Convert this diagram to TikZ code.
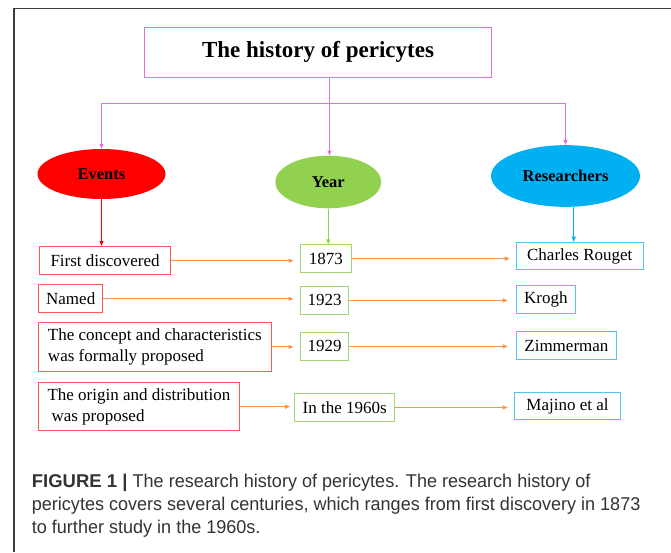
\documentclass[tikz,border=0pt]{standalone}
\usepackage{fontspec}
\setmainfont{Liberation Serif}
\newfontfamily\capfont{Liberation Sans}
\usetikzlibrary{arrows.meta,shapes.geometric}
\definecolor{pinkline}{HTML}{DE74DB}
\definecolor{pinktip}{HTML}{CC3FCC}
\definecolor{evred}{HTML}{FF0000}
\definecolor{boxred}{HTML}{FF5757}
\definecolor{yrgreen}{HTML}{92D050}
\definecolor{boxgreen}{HTML}{9FD873}
\definecolor{rsblue}{HTML}{00B0F0}
\definecolor{boxblue}{HTML}{52C4F2}
\definecolor{arrorange}{HTML}{F7964A}
\definecolor{framegray}{HTML}{3C3C3C}
\definecolor{captxt}{HTML}{333333}
\tikzset{
  tip/.style={-{Triangle[length=5pt,width=4pt]}},
  titlebox/.style={draw=pinkline, line width=1pt, anchor=north west, inner sep=0pt,
    font=\fontsize{23}{27}\selectfont\bfseries},
  head/.style={ellipse, inner sep=0pt, font=\fontsize{16.5}{20}\selectfont\bfseries},
  ebox/.style={draw=boxred, line width=1.1pt, anchor=north west, inner sep=0pt,
    font=\fontsize{17}{20.6}\selectfont},
  ybox/.style={ebox, draw=boxgreen},
  rbox/.style={ebox, draw=boxblue},
  mline/.style={ebox, inner xsep=6.5pt, align=left},
  oarr/.style={tip, draw=arrorange, fill=arrorange, line width=0.9pt},
  caption/.style={anchor=base west, inner sep=0pt, text=captxt, font=\capfont\fontsize{18.5}{22}\selectfont}
}
\begin{document}
\begin{tikzpicture}[x=1pt,y=-1pt]
\useasboundingbox (0,0) rectangle (671,552);
% frame
\draw[framegray, line width=1.3pt] (671,8.7) -- (14,8.7) -- (14,552);
% title
\node[titlebox, minimum width=347pt, minimum height=50.3pt] (title) at (144,26.7) {The history of pericytes};
% headers
\node[head, fill=evred, minimum width=128pt, minimum height=50pt] (ev) at (101.5,174) {Events};
\node[head, fill=yrgreen, minimum width=106pt, minimum height=52.6pt] (yr) at (328.3,182) {Year};
\node[head, fill=rsblue, minimum width=149pt, minimum height=61.7pt] (rs) at (565.5,176) {Researchers};
% pink connectors
\coordinate (hj) at (329.5,103.3);
\coordinate (tx) at (329.5,0);
\draw[pinkline, line width=1pt] (title.south -| tx) -- (hj);
\draw[pinkline, line width=1pt] (ev.north |- hj) -- (rs.north |- hj);
\draw[pinkline, line width=1pt, tip, fill=pinktip] (ev.north |- hj) -- (ev.north);
\draw[pinkline, line width=1pt, tip, fill=pinktip] (hj) -- (yr.north -| tx);
\draw[pinkline, line width=1pt, tip, fill=pinktip] (rs.north |- hj) -- (rs.north);
% event boxes
\node[ebox, minimum width=130.4pt, minimum height=28.3pt] (e1) at (39.3,246) {First discovered};
\node[ebox, minimum width=64.3pt, minimum height=28pt] (e2) at (38,284.3) {Named};
\node[mline, minimum width=232.7pt, minimum height=48.7pt] (e3) at (38,322) {The concept and characteristics\\was formally proposed};
\node[mline, minimum width=200.7pt, minimum height=47.7pt] (e4) at (38,382.3) {The origin and distribution\\\hspace{4pt}was proposed};
% year boxes
\node[ybox, minimum width=50.5pt, minimum height=27.7pt] (y1) at (300,244.3) {1873};
\node[ybox, minimum width=48.3pt, minimum height=28.3pt] (y2) at (300,285.7) {1923};
\node[ybox, minimum width=48.3pt, minimum height=28.3pt] (y3) at (300,331.7) {1929};
\node[ybox, minimum width=100.3pt, minimum height=28.3pt] (y4) at (294,392.7) {In the 1960s};
% researcher boxes
\node[rbox, minimum width=127pt, minimum height=27.6pt] (r1) at (515.7,241.7) {Charles Rouget};
\node[rbox, minimum width=59.3pt, minimum height=27.4pt] (r2) at (515.7,285.3) {Krogh};
\node[rbox, minimum width=100.3pt, minimum height=27.4pt] (r3) at (515.7,331.3) {Zimmerman};
\node[rbox, minimum width=106.6pt, minimum height=27.6pt] (r4) at (513.7,391.7) {Majino et al};
% down connectors
\draw[tip, draw=evred, fill=evred, line width=0.9pt] (ev.south) -- (ev.south |- e1.north);
\draw[tip, draw=yrgreen, fill=yrgreen, line width=0.9pt] (yr.south) -- (yr.south |- y1.north);
\coordinate (bx) at (573.7,0);
\draw[tip, draw=rsblue, fill=rsblue, line width=0.9pt] (rs.south -| bx) -- (r1.north -| bx);
% orange arrows
\draw[oarr, shorten >=6.5pt] (e1.east) -- (e1.east -| y1.west);
\draw[oarr, shorten >=6.5pt] (e2.east) -- (e2.east -| y2.west);
\draw[oarr, shorten >=6.5pt] (e3.east) -- (e3.east -| y3.west);
\draw[oarr, shorten >=4pt] (e4.east) -- (e4.east -| y4.west);
\draw[oarr, shorten >=6pt] (y1.east) -- (y1.east -| r1.west);
\draw[oarr, shorten >=8pt] (y2.east) -- (y2.east -| r2.west);
\draw[oarr, shorten >=8pt] (y3.east) -- (y3.east -| r3.west);
\draw[oarr, shorten >=6pt] (y4.east) -- (y4.east -| r4.west);
% caption
\node[caption] (c1) at (31.7,487) {\textbf{FIGURE 1 |} \scalebox{0.975}[1]{The research history of pericytes. The research history of}};
\node[caption] (c2) at (31.7,510) {\scalebox{0.975}[1]{pericytes covers several centuries, which ranges from first discovery in 1873}};
\node[caption] (c3) at (31.7,533) {\scalebox{0.975}[1]{to further study in the 1960s.}};
\end{tikzpicture}
\end{document}
